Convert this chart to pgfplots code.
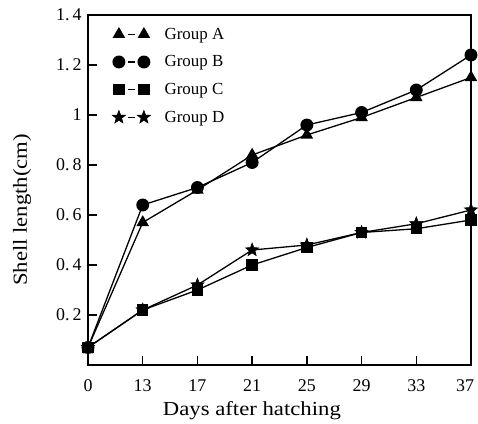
\documentclass[border=0pt]{standalone}
\usepackage{fontspec}
\setmainfont{Liberation Serif}
\newfontfamily\widefont[FakeStretch=1.14]{Liberation Serif}
\usepackage{pgfplots}
\pgfplotsset{compat=1.18}

% filled five-pointed star
\pgfdeclareplotmark{fstar}{%
  \pgfpathmoveto{\pgfpointpolar{90}{\pgfplotmarksize}}%
  \pgfpathlineto{\pgfpointpolar{126}{0.42\pgfplotmarksize}}%
  \pgfpathlineto{\pgfpointpolar{162}{\pgfplotmarksize}}%
  \pgfpathlineto{\pgfpointpolar{198}{0.42\pgfplotmarksize}}%
  \pgfpathlineto{\pgfpointpolar{234}{\pgfplotmarksize}}%
  \pgfpathlineto{\pgfpointpolar{270}{0.42\pgfplotmarksize}}%
  \pgfpathlineto{\pgfpointpolar{306}{\pgfplotmarksize}}%
  \pgfpathlineto{\pgfpointpolar{342}{0.42\pgfplotmarksize}}%
  \pgfpathlineto{\pgfpointpolar{18}{\pgfplotmarksize}}%
  \pgfpathlineto{\pgfpointpolar{54}{0.42\pgfplotmarksize}}%
  \pgfpathclose
  \pgfusepathqfillstroke}

\pgfplotstableread{
x   A     B     C     D
0   0.07  0.07  0.07  0.07
1   0.57  0.64  0.22  0.22
2   0.70  0.71  0.30  0.32
3   0.84  0.81  0.40  0.46
4   0.92  0.96  0.47  0.48
5   0.99  1.01  0.53  0.53
6   1.07  1.10  0.545 0.565
7   1.15  1.24  0.58  0.62
}\shell

\begin{document}
\begin{tikzpicture}
\begin{axis}[
  scale only axis, width=383bp, height=350bp,
  xmin=0, xmax=7, ymin=0, ymax=1.4,
  xtick={0,...,7},
  xticklabels={0,13,17,21,25,29,33,\hspace*{-12bp}37},
  ytick={0.2,0.4,0.6,0.8,1,1.2,1.4},
  yticklabels={0.\,2,0.\,4,0.\,6,0.\,8,1,1.\,2,1.\,4},
  tick align=inside, xtick pos=bottom, ytick pos=left,
  major tick length=9bp,
  axis line style={line width=1.7bp},
  tick style={line width=1.3bp, black},
  tick label style={font=\fontsize{18}{20}\selectfont},
  xticklabel style={yshift=-11bp},
  yticklabel style={xshift=-3bp},
  /pgf/number format/assume math mode=true,
  xlabel={Days after hatching},
  ylabel={Shell length(cm)},
  label style={font=\widefont\fontsize{20}{22}\selectfont},
  xlabel style={at={(axis description cs:0.428,0)}, anchor=base, yshift=-50bp},
  ylabel style={at={(axis description cs:-0.172,0.443)}, anchor=center},
  legend style={at={(0.055,0.975)}, anchor=north west, draw=none, fill=none,
    font=\fontsize{17}{19}\selectfont, row sep=11bp,
    nodes={inner xsep=14bp}},
  legend cell align=left,
  legend image code/.code={
    \draw[#1,mark=none] (11bp,0bp) -- (18bp,0bp);
    \draw[#1] plot[only marks] coordinates {(2bp,0bp) (27bp,0bp)};
  },
  every axis plot/.append style={black, line width=1.3bp, mark options={fill=black, solid}},
]
\addplot[mark=triangle*, mark size=6bp] table[x=x,y=A] {\shell};
\addlegendentry{Group A}
\addplot[mark=*, mark size=5.8bp] table[x=x,y=B] {\shell};
\addlegendentry{Group B}
\addplot[mark=square*, mark size=5bp] table[x=x,y=C] {\shell};
\addlegendentry{Group C}
\addplot[mark=fstar, mark size=7bp, mark options={line width=0.5bp}] table[x=x,y=D] {\shell};
\addlegendentry{Group D}
\end{axis}
\pgfresetboundingbox
\path (current axis.south west) ++(-88bp,-59bp) rectangle ([shift={(7bp,15bp)}]current axis.north east);
\end{tikzpicture}
\end{document}
